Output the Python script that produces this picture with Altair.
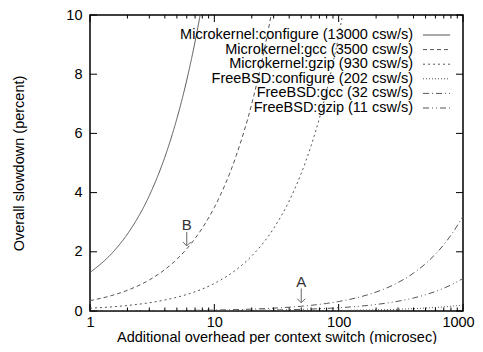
import altair as alt
import pandas as pd

FONT = "Liberation Sans"
FS = 14.5

# overhead per context switch (microsec) sample points
x_vals = [1, 1.5, 2, 3, 4, 5, 6, 7, 8, 10, 15, 20, 30, 40, 50, 60, 70, 80,
          100, 150, 200, 300, 400, 500, 600, 700, 800, 1000]

series_names = [
    "Microkernel:configure (13000 csw/s)",
    "Microkernel:gcc (3500 csw/s)",
    "Microkernel:gzip (930 csw/s)",
    "FreeBSD:configure (202 csw/s)",
    "FreeBSD:gcc (32 csw/s)",
    "FreeBSD:gzip (11 csw/s)",
]

# overall slowdown (percent)
mk_configure = [1.3, 1.95, 2.6, 3.9, 5.2, 6.5, 7.8, 9.1, 10.4, 13.0]
mk_gcc = [0.35, 0.525, 0.7, 1.05, 1.4, 1.75, 2.1, 2.45, 2.8, 3.5, 5.25, 7.0, 10.5, 14.0]
mk_gzip = [0.093, 0.14, 0.186, 0.279, 0.372, 0.465, 0.558, 0.651, 0.744, 0.93,
           1.395, 1.86, 2.79, 3.72, 4.65, 5.58, 6.51, 7.44, 9.3, 13.95]
fb_configure = [0.0002, 0.0003, 0.0004, 0.0006, 0.0008, 0.001, 0.0012, 0.0014, 0.0016, 0.002,
                0.003, 0.004, 0.006, 0.008, 0.01, 0.012, 0.014, 0.016, 0.02, 0.03,
                0.04, 0.06, 0.08, 0.1, 0.12, 0.14, 0.16, 0.2]
fb_gcc = [0.0032, 0.0048, 0.0064, 0.0096, 0.0128, 0.016, 0.0192, 0.0224, 0.0256, 0.032,
          0.048, 0.064, 0.096, 0.128, 0.16, 0.192, 0.224, 0.256, 0.32, 0.48,
          0.64, 0.96, 1.28, 1.6, 1.92, 2.24, 2.56, 3.2]
fb_gzip = [0.0011, 0.00165, 0.0022, 0.0033, 0.0044, 0.0055, 0.0066, 0.0077, 0.0088, 0.011,
           0.0165, 0.022, 0.033, 0.044, 0.055, 0.066, 0.077, 0.088, 0.11, 0.165,
           0.22, 0.33, 0.44, 0.55, 0.66, 0.77, 0.88, 1.1]
series_values = [mk_configure, mk_gcc, mk_gzip, fb_configure, fb_gcc, fb_gzip]

dash_styles = [[1, 0], [4, 3], [2, 3], [1, 2], [6, 3, 1, 3], [6, 3, 1, 3, 1, 3]]

x_major = [1, 10, 100, 1000]
x_minor = [2, 3, 4, 5, 6, 7, 8, 9, 20, 30, 40, 50, 60, 70, 80, 90,
           200, 300, 400, 500, 600, 700, 800, 900]
y_ticks = [0, 2, 4, 6, 8, 10]

ann_labels = ["A", "B"]
ann_x = [50, 6]
ann_text_y = [0.98, 2.89]
ann_arrow_top = [0.76, 2.67]
ann_arrow_tip = [0.28, 2.2]

rows = []
for name, ys in zip(series_names, series_values):
    for xv, yv in zip(x_vals, ys):
        rows.append({"x": xv, "y": yv, "series": name})
curves_df = pd.DataFrame(rows)
legend_df = pd.DataFrame({"series": series_names})
xmaj_df = pd.DataFrame({"x": x_major})
xmin_df = pd.DataFrame({"x": x_minor})
yt_df = pd.DataFrame({"y": y_ticks})
ann_df = pd.DataFrame({"label": ann_labels, "x": ann_x, "ty": ann_text_y,
                       "y": ann_arrow_top, "tip": ann_arrow_tip})

W, H = 373, 296
LINE = "#555555"

x_axis = alt.Axis(title="Additional overhead per context switch (microsec)",
                  values=x_major, format="d", grid=False, ticks=False, tickSize=0,
                  domain=False, labelPadding=4, titlePadding=2, labelFlush=False,
                  labelOffset={"condition": {"test": "datum.value == 1000", "value": -5},
                               "value": 0},
                  labelFont=FONT, titleFont=FONT, labelFontSize=FS, titleFontSize=FS,
                  labelColor="black", titleColor="black", titleFontWeight="normal")
y_axis = alt.Axis(title="Overall slowdown (percent)", values=y_ticks, format="d",
                  grid=False, ticks=False, tickSize=0, domain=False,
                  labelPadding=8, titlePadding=39,
                  labelFont=FONT, titleFont=FONT, labelFontSize=FS, titleFontSize=FS,
                  labelColor="black", titleColor="black", titleFontWeight="normal")


def X(field):
    return alt.X(field, type="quantitative", axis=x_axis)


def Y(field):
    return alt.Y(field, type="quantitative", axis=y_axis)


dash_scale = alt.Scale(domain=series_names, range=dash_styles)

curves = alt.Chart(curves_df).mark_line(
    clip=True, color=LINE, strokeWidth=1, interpolate="monotone"
).encode(
    x=alt.X("x:Q", axis=x_axis, scale=alt.Scale(type="log", domain=[1, 1000], nice=False)),
    y=alt.Y("y:Q", axis=y_axis, scale=alt.Scale(domain=[0, 10], nice=False)),
    strokeDash=alt.StrokeDash("series:N", scale=dash_scale, legend=None),
    detail="series:N",
)

tick_color = "black"
xmaj_bot = alt.Chart(xmaj_df).mark_rule(color=tick_color, strokeWidth=1).encode(
    x=X("x"), y=alt.value(H), y2=alt.value(H - 7))
xmaj_top = alt.Chart(xmaj_df).mark_rule(color=tick_color, strokeWidth=1).encode(
    x=X("x"), y=alt.value(0), y2=alt.value(7))
xmin_bot = alt.Chart(xmin_df).mark_rule(color=tick_color, strokeWidth=1).encode(
    x=X("x"), y=alt.value(H), y2=alt.value(H - 3.5))
xmin_top = alt.Chart(xmin_df).mark_rule(color=tick_color, strokeWidth=1).encode(
    x=X("x"), y=alt.value(0), y2=alt.value(3.5))
yt_left = alt.Chart(yt_df).mark_rule(color=tick_color, strokeWidth=1).encode(
    y=Y("y"), x=alt.value(0), x2=alt.value(7))
yt_right = alt.Chart(yt_df).mark_rule(color=tick_color, strokeWidth=1).encode(
    y=Y("y"), x=alt.value(W), x2=alt.value(W - 7))

ann_text = alt.Chart(ann_df).mark_text(
    font=FONT, fontSize=15, color="#333333", baseline="middle", align="center"
).encode(x=X("x"), y=Y("ty"), text="label:N")
ann_shaft = alt.Chart(ann_df).mark_rule(color="#666666", strokeWidth=1).encode(
    x=X("x"), y=Y("y"), y2="tip:Q")
ann_head = alt.Chart(ann_df).mark_point(
    shape="M-1,-1L0,0L1,-1", filled=False, color="#666666", strokeWidth=1, size=64, opacity=1
).encode(x=X("x"), y=Y("tip"))

main = alt.layer(curves, xmaj_bot, xmaj_top, xmin_bot, xmin_top, yt_left, yt_right,
                 ann_shaft, ann_head, ann_text)

leg_y = alt.Y("series:N", sort=series_names, axis=None,
              scale=alt.Scale(type="point", domain=series_names, range=[20, 93], padding=0))
leg_text = alt.Chart(legend_df).mark_text(
    font=FONT, fontSize=FS, color="black", align="right", baseline="middle"
).encode(x=alt.value(323), y=leg_y, text="series:N")
leg_line = alt.Chart(legend_df).mark_rule(color=LINE, strokeWidth=1).encode(
    x=alt.value(333), x2=alt.value(360), y=leg_y,
    strokeDash=alt.StrokeDash("series:N", scale=dash_scale, legend=None))
legend = alt.layer(leg_text, leg_line)

chart = alt.layer(main, legend).resolve_scale(y="independent").properties(
    width=W, height=H,
    padding={"left": 82, "top": 7, "right": 12, "bottom": 33},
    autosize=alt.AutoSizeParams(type="none"),
    background="white",
).configure_view(
    stroke="black", strokeWidth=1.5
)

chart.save("out.html", embed_options={"renderer": "svg", "actions": False})
